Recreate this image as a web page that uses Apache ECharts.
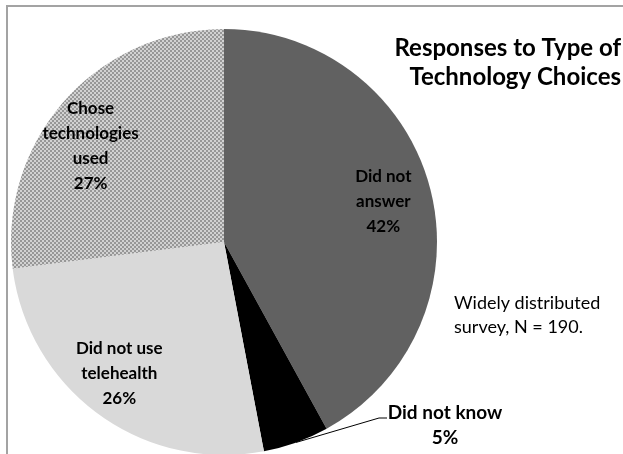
<!DOCTYPE html>
<html>
<head>
<meta charset="utf-8">
<script src="https://cdn.jsdelivr.net/npm/echarts@6/dist/echarts.min.js"></script>
<style>
  html, body { margin: 0; padding: 0; background: #fff; }
  #chart { width: 623px; height: 454px; }
</style>
</head>
<body>
<div id="chart"></div>
<script>
// Survey answers, clockwise from 12 o'clock
const categories = ['Did not answer', 'Did not know', 'Did not use telehealth', 'Chose technologies used'];
const sliceLabels = ['Did not\nanswer', 'Did not know', 'Did not use\ntelehealth', 'Chose\ntechnologies\nused'];
const shares = [42, 5, 26, 27];

const titleText = 'Responses to Type of\nTechnology Choices';
const noteText = 'Widely distributed\nsurvey, N = 190.';

// Fine checkered fill for the "chose technologies" wedge
function checkerPattern() {
  const c = document.createElement('canvas');
  c.width = 4; c.height = 4;
  const g = c.getContext('2d');
  g.fillStyle = '#d2d2d2';
  g.fillRect(0, 0, 4, 4);
  g.fillStyle = '#979797';
  g.fillRect(0, 0, 2, 2);
  g.fillRect(2, 2, 2, 2);
  return c;
}

const fills = ['#616161', '#000000', '#d9d9d9', { image: checkerPattern(), repeat: 'repeat' }];
const FONT = 'Lato, "Open Sans", sans-serif';
const CENTER = [224, 242];
const RADIUS = 213;

// point on the rim at the middle of wedge i (angles clockwise from 12 o'clock)
function rimPoint(i) {
  const total = shares.reduce((a, b) => a + b, 0);
  let before = 0;
  for (let k = 0; k < i; k++) before += shares[k];
  const a = (before + shares[i] / 2) / total * 2 * Math.PI;
  return [CENTER[0] + RADIUS * Math.sin(a), CENTER[1] - RADIUS * Math.cos(a)];
}

const pieData = categories.map((name, i) => ({
  name: name,
  value: shares[i],
  itemStyle: { color: fills[i] }
}));

const labelData = categories.map((name, i) => {
  const item = {
    name: name,
    value: shares[i],
    label: { formatter: sliceLabels[i] + '\n' + shares[i] + '%' }
  };
  if (i === 1) {
    item.label.position = 'outside';
    item.label.fontSize = 19;
    item.labelLine = { show: true, lineStyle: { color: '#000', width: 1 } };
  }
  return item;
});

const chart = echarts.init(document.getElementById('chart'), null, { renderer: 'canvas' });
chart.setOption({
  animation: false,
  graphic: [
    {
      type: 'rect', z: -10, silent: true,
      shape: { x: 7, y: 6, width: 700, height: 600 },
      style: { fill: null, stroke: '#a3a3a3', lineWidth: 2 }
    },
    {
      type: 'text', silent: true, z: 10,
      style: {
        text: titleText, x: 621, y: 34, align: 'right', verticalAlign: 'top',
        font: 'bold 24px ' + FONT, fill: '#000', lineHeight: 29
      }
    },
    {
      type: 'text', silent: true, z: 10,
      style: {
        text: noteText, x: 454, y: 291, align: 'left', verticalAlign: 'top',
        font: '18px ' + FONT, fill: '#000', lineHeight: 24
      }
    }
  ],
  series: [
    {
      type: 'pie',
      center: CENTER,
      radius: RADIUS,
      startAngle: 90,
      clockwise: true,
      silent: true,
      label: { show: false },
      labelLine: { show: false },
      itemStyle: { borderWidth: 0 },
      data: pieData
    },
    {
      // transparent ring that carries the wedge labels
      type: 'pie',
      center: CENTER,
      radius: [110, RADIUS],
      startAngle: 90,
      clockwise: true,
      silent: true,
      avoidLabelOverlap: false,
      itemStyle: { color: 'rgba(0,0,0,0)', borderWidth: 0 },
      label: {
        show: true,
        position: 'inside',
        color: '#000',
        fontFamily: FONT,
        fontSize: 17,
        fontWeight: 'bold',
        lineHeight: 25
      },
      labelLayout: function (p) {
        if (p.dataIndex === 3) return { dx: -10, dy: 13 };
        if (p.dataIndex === 2) return { dx: -8, dy: -2 };
        if (p.dataIndex !== 1) return {};
        return {
          x: 445, y: 425, align: 'center', verticalAlign: 'middle',
          labelLinePoints: [rimPoint(1), [379, 418], [387, 418]]
        };
      },
      data: labelData
    }
  ]
});
</script>
</body>
</html>
